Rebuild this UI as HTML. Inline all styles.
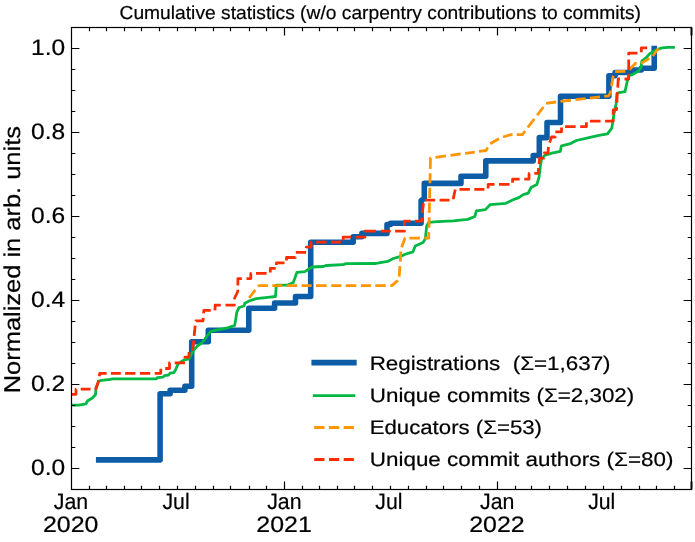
<!DOCTYPE html>
<html><head><meta charset="utf-8"><title>Cumulative statistics</title>
<style>html,body{margin:0;padding:0;background:#fff;width:695px;height:542px;overflow:hidden}svg{display:block;will-change:transform}</style>
</head><body>
<svg width="695" height="542" viewBox="0 0 695 542">
<rect width="695" height="542" fill="#ffffff"/>
<defs><clipPath id="ax"><rect x="71.5" y="27.5" width="620.0" height="462.0"/></clipPath></defs>
<g clip-path="url(#ax)" fill="none" stroke-linejoin="round">
<path d="M 98.7 459.9 H 160.1 V 393.7 H 170.1 V 390.2 H 184.9 V 386.2 H 191.7 V 341.7 H 208.3 V 330.2 H 248.8 V 308.3 H 274.6 V 303 H 295.5 V 296.5 H 310.7 V 242.2 H 353.2 V 236.7 H 361.9 V 233.4 H 387 V 224.5 H 390.5 V 223.3 H 421.1 V 200.6 L 424.3 198.5 V 183.4 H 461 V 176.2 H 485.8 V 160.9 H 533.2 V 155.5 H 539.3 V 137.6 H 547 V 122.5 H 560.5 V 96.2 H 608.9 V 75.8 H 615.1 V 72.5 H 630.2 V 70 H 641.3 V 68.2 H 654.2 V 48.6" stroke="#0C5DA5" stroke-width="5.56" stroke-linecap="square"/>
<polyline points="68.0,405.1 79.0,405.1 86.0,403.8 87.7,400.8 92.0,398.2 95.5,394.7 95.9,389.5 98.5,381.2 101.6,380.4 110.2,379.3 112.8,378.9 156.5,378.9 157.2,377.6 163.0,377.2 164.4,375.6 168.7,375.0 170.1,373.2 173.7,372.7 175.5,370.0 178.1,363.9 183.2,360.3 188.9,358.8 193.2,350.9 197.6,345.9 201.9,343.0 206.2,337.3 210.5,331.5 216.3,330.1 226.3,328.2 230.4,326.9 234.7,325.5 236.9,311.8 239.1,307.5 244.1,306.0 244.8,303.2 249.1,301.0 256.3,298.6 270.0,297.1 275.5,296.5 276.3,285.1 287.6,285.1 293.3,282.5 296.9,272.4 304.8,271.7 312.0,267.0 323.5,266.5 325.9,265.5 343.2,264.7 346.0,263.6 376.0,263.5 380.4,262.6 387.6,261.4 393.3,258.5 401.5,256.1 405.8,254.0 413.0,251.8 415.2,246.0 423.1,242.4 425.3,238.8 426.7,225.9 428.8,222.3 437.5,221.6 453.3,220.9 467.7,219.4 474.9,216.5 476.3,210.8 485.4,209.6 490.1,204.7 505.9,203.3 513.1,199.7 518.8,197.6 523.2,194.7 528.2,193.2 531.1,187.5 536.8,184.6 539.0,177.4 540.4,166.0 541.5,159.5 544.5,155.5 551.9,153.2 560.3,151.4 561.4,145.8 570.6,143.6 576.4,140.5 589.0,137.6 598.8,135.4 607.5,133.9 611.8,128.2 614.0,113.8 616.1,103.7 617.0,93.4 619.0,92.6 625.0,91.6 627.2,81.5 629.0,75.6 633.0,74.4 638.5,71.0 641.1,67.0 641.8,61.1 646.5,57.2 650.0,53.4 653.0,51.8 658.4,49.1 662.4,47.8 668.0,47.3 673.5,47.3" stroke="#00B945" stroke-width="2.78" stroke-linecap="square"/>
<path d="M249.20 298.00 L255.27 289.84M258.08 286.47 L259.00 285.60 L267.90 285.60M272.30 285.60 L282.35 285.60M286.70 285.60 L297.10 285.60M301.60 285.60 L311.65 285.60M316.00 285.60 L326.61 285.60M331.20 285.60 L341.39 285.60M345.80 285.60 L356.34 285.60M360.90 285.60 L370.95 285.60M375.30 285.60 L385.77 285.60M390.30 285.60 L391.90 285.60 L397.60 280.60 L397.69 280.38M399.20 276.60 L399.20 276.60 L399.90 266.11M400.20 261.58 L400.80 252.60 L400.96 251.52M401.60 247.20 L401.60 247.20 L405.00 238.20 L405.17 238.20M409.40 238.20 L419.87 238.20M424.40 238.20 L428.70 238.20 L428.84 232.15M428.94 227.67 L429.17 217.32M429.27 212.85 L429.50 202.49M429.60 198.02 L429.83 187.67M429.93 183.19 L430.16 173.21M430.26 168.89 L430.50 158.00 L430.78 157.96M435.57 157.32 L445.95 155.92M450.43 155.32 L460.70 153.93M465.14 153.34 L474.82 152.03M479.01 151.47 L486.20 150.50 L487.66 147.38M490.25 143.77 L498.80 138.80 L498.99 138.72M503.00 137.00 L511.00 134.60 L512.53 134.60M516.80 134.60 L522.40 134.60 L525.13 131.01M527.77 127.53 L534.30 118.93M537.12 115.22 L543.39 106.97M546.10 103.40 L556.00 102.00 L556.13 101.99M560.47 101.48 L570.96 100.25M575.50 99.71 L585.58 98.53M589.94 98.02 L599.93 96.85M604.25 96.34 L608.90 95.80 L610.50 92.00 L610.76 90.43M611.50 86.00 L613.00 77.00 L613.45 75.81M615.10 71.70 L625.39 71.45M629.16 69.80 L635.50 63.30 L636.71 63.34M641.13 63.42 L649.39 58.37M652.82 56.05 L658.40 48.20" stroke="#FF9500" stroke-width="2.78"/>
<path d="M71.17 394.30 L76.00 394.30 L76.00 389.20 L76.28 389.20M80.70 389.20 L90.58 389.20M94.85 389.20 L95.50 389.20 L98.10 382.50 L98.47 380.50M99.25 376.30 L99.80 373.30 L106.63 373.30M110.90 373.30 L120.81 373.30M125.10 373.30 L135.43 373.30M139.90 373.30 L150.23 373.30M154.70 373.30 L160.80 373.30 L160.80 368.72M165.20 368.50 L169.50 368.50 L169.50 362.80 L170.11 362.80M174.70 362.80 L184.96 362.80M185.00 358.40 L185.00 357.10 L189.00 357.10 L189.00 351.94M192.45 350.82 L193.74 340.45M194.18 335.94 L195.15 325.53M195.67 321.04 L195.70 320.80 L203.00 320.80 L203.22 317.89M203.57 313.38 L203.80 310.40 L210.72 310.40M215.00 310.40 L215.10 305.20 L220.79 305.20M225.50 305.20 L234.30 305.20 L234.36 303.76M234.54 299.33 L234.60 298.00 L237.80 291.50 L237.81 289.83M237.85 285.40 L237.90 278.60 L241.85 278.60M246.50 278.60 L250.80 278.60 L250.80 273.40 L251.56 273.40M256.00 273.40 L266.61 273.40M270.30 272.50 L270.30 268.40 L275.76 268.40M276.50 265.00 L276.50 262.80 L284.49 262.80M286.50 260.40 L286.50 257.50 L295.50 257.50 L295.50 257.46M295.80 252.40 L306.13 252.40M306.28 248.00 L306.30 247.20 L311.00 247.20 L311.20 242.20 L311.52 242.20M316.20 242.20 L326.46 242.20M330.90 242.20 L340.88 242.20M343.20 240.20 L343.20 237.10 L350.92 237.10M355.60 237.10 L364.90 237.10 L364.92 236.00M364.99 231.50 L365.00 231.20 L375.94 231.20M380.80 231.20 L390.78 231.20M395.10 231.20 L404.50 231.20 L404.50 230.16M404.50 225.65 L404.50 221.20 L410.49 221.20M415.00 221.20 L421.60 221.20 L421.91 217.53M422.29 213.10 L422.30 213.00 L423.45 203.31M425.00 200.10 L435.19 200.10M439.60 200.10 L449.51 200.10M453.16 199.33 L455.27 189.46M459.50 189.30 L469.83 189.30M474.30 189.30 L484.43 189.30M488.03 188.49 L488.20 184.40 L494.50 184.40M499.00 184.40 L509.54 184.40M512.53 182.80 L512.60 179.10 L519.65 179.10M524.30 179.10 L529.00 179.10 L529.10 173.40 L529.59 173.40M534.30 173.40 L538.20 173.40 L538.59 168.00M539.00 164.00 L539.60 158.20 L544.00 158.20 L544.01 158.04M544.27 153.55 L544.30 153.00 L548.00 153.00 L548.44 146.88M549.64 142.57 L551.50 137.00 L555.20 137.00 L555.20 136.18M555.31 131.80 L561.50 131.80 L561.50 127.59M565.10 126.70 L575.64 126.70M580.20 126.70 L586.40 126.70 L586.40 122.29M589.90 121.20 L600.51 121.20M605.10 121.20 L613.20 121.20 L613.20 119.11M613.20 114.70 L613.20 110.00 L616.60 109.50 L616.69 107.17M616.87 102.65 L617.20 94.00 L617.41 92.19M617.79 87.69 L618.20 79.00 L619.97 79.00M624.50 79.00 L628.70 79.00 L628.70 73.84M628.70 69.80 L628.70 59.61M628.70 55.20 L628.70 53.10 L637.49 53.10M641.30 52.20 L641.30 47.80 L647.19 47.80" stroke="#FF2C00" stroke-width="2.78"/>
</g>
<g fill="none" stroke-linejoin="round">
<path d="M314.2 362.6H353.9" stroke="#0C5DA5" stroke-width="5.56" stroke-linecap="square"/>
<path d="M314.2 395.6H353.9" stroke="#00B945" stroke-width="2.78" stroke-linecap="square"/>
<path d="M314.2 427.5H353.9" stroke="#FF9500" stroke-width="2.78" stroke-dasharray="10.29 4.45"/>
<path d="M314.2 459.5H353.9" stroke="#FF2C00" stroke-width="2.78" stroke-dasharray="10.29 4.45"/>
</g>
<path d="M71.50 468.50h7.9M691.50 468.50h-7.9M71.50 384.50h7.9M691.50 384.50h-7.9M71.50 300.50h7.9M691.50 300.50h-7.9M71.50 216.50h7.9M691.50 216.50h-7.9M71.50 132.50h7.9M691.50 132.50h-7.9M71.50 48.50h7.9M691.50 48.50h-7.9M71.50 447.50h3.8M691.50 447.50h-3.8M71.50 426.50h3.8M691.50 426.50h-3.8M71.50 405.50h3.8M691.50 405.50h-3.8M71.50 363.50h3.8M691.50 363.50h-3.8M71.50 342.50h3.8M691.50 342.50h-3.8M71.50 321.50h3.8M691.50 321.50h-3.8M71.50 279.50h3.8M691.50 279.50h-3.8M71.50 258.50h3.8M691.50 258.50h-3.8M71.50 237.50h3.8M691.50 237.50h-3.8M71.50 195.50h3.8M691.50 195.50h-3.8M71.50 174.50h3.8M691.50 174.50h-3.8M71.50 153.50h3.8M691.50 153.50h-3.8M71.50 111.50h3.8M691.50 111.50h-3.8M71.50 90.50h3.8M691.50 90.50h-3.8M71.50 69.50h3.8M691.50 69.50h-3.8M89.50 489.50v-3.8M89.50 27.50v3.8M106.50 489.50v-3.8M106.50 27.50v3.8M124.50 489.50v-3.8M124.50 27.50v3.8M141.50 489.50v-3.8M141.50 27.50v3.8M159.50 489.50v-3.8M159.50 27.50v3.8M177.50 489.50v-3.8M177.50 27.50v3.8M195.50 489.50v-3.8M195.50 27.50v3.8M213.50 489.50v-3.8M213.50 27.50v3.8M230.50 489.50v-3.8M230.50 27.50v3.8M249.50 489.50v-3.8M249.50 27.50v3.8M266.50 489.50v-3.8M266.50 27.50v3.8M284.50 489.50v-7.9M284.50 27.50v7.9M302.50 489.50v-3.8M302.50 27.50v3.8M319.50 489.50v-3.8M319.50 27.50v3.8M337.50 489.50v-3.8M337.50 27.50v3.8M354.50 489.50v-3.8M354.50 27.50v3.8M372.50 489.50v-3.8M372.50 27.50v3.8M390.50 489.50v-3.8M390.50 27.50v3.8M408.50 489.50v-3.8M408.50 27.50v3.8M426.50 489.50v-3.8M426.50 27.50v3.8M443.50 489.50v-3.8M443.50 27.50v3.8M461.50 489.50v-3.8M461.50 27.50v3.8M479.50 489.50v-3.8M479.50 27.50v3.8M497.50 489.50v-7.9M497.50 27.50v7.9M515.50 489.50v-3.8M515.50 27.50v3.8M531.50 489.50v-3.8M531.50 27.50v3.8M549.50 489.50v-3.8M549.50 27.50v3.8M567.50 489.50v-3.8M567.50 27.50v3.8M585.50 489.50v-3.8M585.50 27.50v3.8M603.50 489.50v-3.8M603.50 27.50v3.8M621.50 489.50v-3.8M621.50 27.50v3.8M639.50 489.50v-3.8M639.50 27.50v3.8M656.50 489.50v-3.8M656.50 27.50v3.8M674.50 489.50v-3.8M674.50 27.50v3.8" stroke="#000" stroke-width="1.2" fill="none"/>
<path d="M691.5 27.5v7.9M691.5 489.5v-7.9" stroke="#000" stroke-width="1.9" fill="none"/>
<rect x="71.5" y="27.5" width="620.00" height="462.00" fill="none" stroke="#000" stroke-width="1.2"/>
<g font-family="'Liberation Sans', sans-serif" text-rendering="geometricPrecision" fill="#000" stroke="#000" stroke-width="0.2">
<text x="119.52" y="18.60" font-size="18.8" textLength="521.47" lengthAdjust="spacingAndGlyphs">Cumulative statistics (w/o carpentry contributions to commits)</text>
<text x="31.14" y="475.10" font-size="22.3" textLength="34.13" lengthAdjust="spacingAndGlyphs">0.0</text>
<text x="31.14" y="391.10" font-size="22.3" textLength="34.13" lengthAdjust="spacingAndGlyphs">0.2</text>
<text x="31.14" y="307.10" font-size="22.3" textLength="34.13" lengthAdjust="spacingAndGlyphs">0.4</text>
<text x="31.14" y="223.10" font-size="22.3" textLength="34.13" lengthAdjust="spacingAndGlyphs">0.6</text>
<text x="31.14" y="139.10" font-size="22.3" textLength="34.13" lengthAdjust="spacingAndGlyphs">0.8</text>
<text x="31.14" y="55.10" font-size="22.3" textLength="34.13" lengthAdjust="spacingAndGlyphs">1.0</text>
<text x="53.77" y="509.15" font-size="22.3" textLength="34.42" lengthAdjust="spacingAndGlyphs">Jan</text>
<text x="42.95" y="532.15" font-size="22.3" textLength="55.43" lengthAdjust="spacingAndGlyphs">2020</text>
<text x="162.47" y="509.15" font-size="22.3" textLength="27.15" lengthAdjust="spacingAndGlyphs">Jul</text>
<text x="267.20" y="509.15" font-size="22.3" textLength="34.42" lengthAdjust="spacingAndGlyphs">Jan</text>
<text x="256.38" y="532.15" font-size="22.3" textLength="55.43" lengthAdjust="spacingAndGlyphs">2021</text>
<text x="375.32" y="509.15" font-size="22.3" textLength="27.15" lengthAdjust="spacingAndGlyphs">Jul</text>
<text x="480.05" y="509.15" font-size="22.3" textLength="34.42" lengthAdjust="spacingAndGlyphs">Jan</text>
<text x="469.23" y="532.15" font-size="22.3" textLength="55.43" lengthAdjust="spacingAndGlyphs">2022</text>
<text x="588.17" y="509.15" font-size="22.3" textLength="27.15" lengthAdjust="spacingAndGlyphs">Jul</text>
<text transform="translate(19.9 393.29) rotate(-90)" x="0" y="0" font-size="22.9" textLength="267.21" lengthAdjust="spacingAndGlyphs">Normalized in arb. units</text>
<text x="369.66" y="369.65" font-size="19.6" textLength="240.92" lengthAdjust="spacingAndGlyphs">Registrations  (Σ=1,637)</text>
<text x="369.77" y="401.60" font-size="19.6" textLength="264.51" lengthAdjust="spacingAndGlyphs">Unique commits (Σ=2,302)</text>
<text x="369.68" y="434.45" font-size="19.6" textLength="172.30" lengthAdjust="spacingAndGlyphs">Educators (Σ=53)</text>
<text x="369.77" y="465.60" font-size="19.6" textLength="303.62" lengthAdjust="spacingAndGlyphs">Unique commit authors (Σ=80)</text>
</g>
</svg>
</body></html>
